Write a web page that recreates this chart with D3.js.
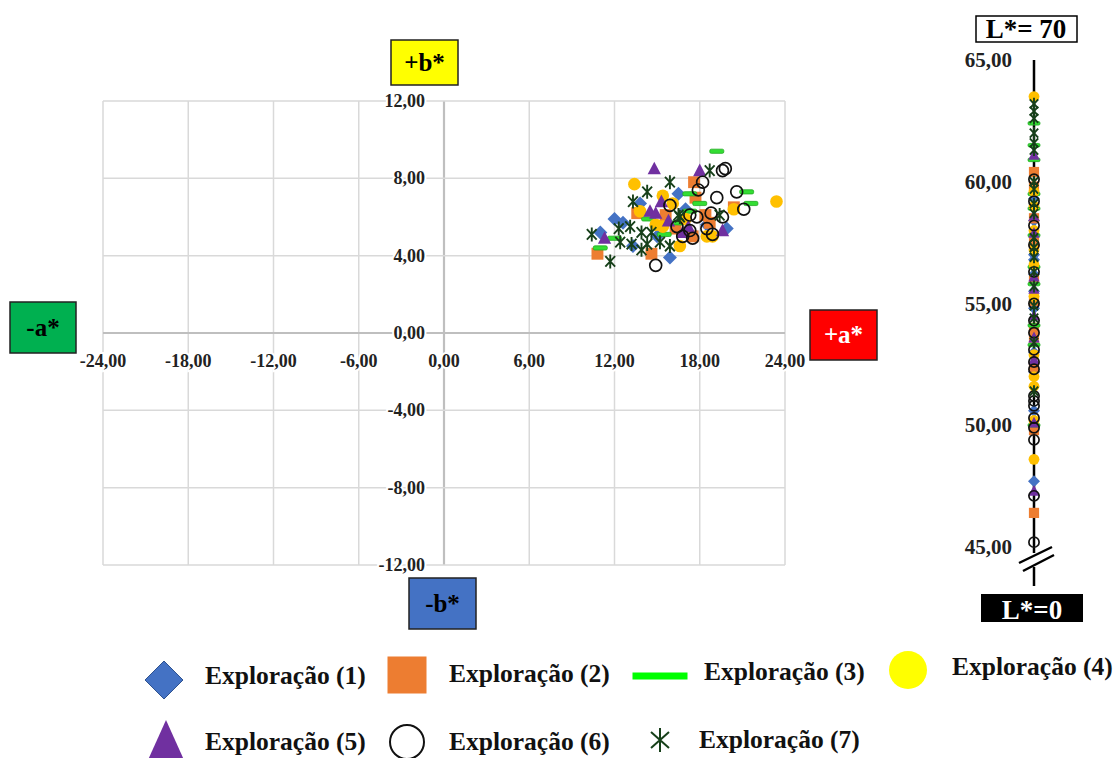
<!DOCTYPE html>
<html>
<head>
<meta charset="utf-8">
<script src="https://cdn.jsdelivr.net/npm/d3@7"></script>
<style>
  body { margin: 0; background: #fff; }
  text { font-family: "Liberation Serif", "Times New Roman", serif; font-weight: bold; }
</style>
</head>
<body>
<div id="chart"></div>
<script>
// a*, b*, L* per sample
const expl1 = [[16.5,7.2,50.6],[12.0,5.9,47.7],[11.0,5.2,56.2],[15.9,3.9,58.4],[13.3,4.5,53.0],[13.8,6.7,57.0],[19.9,5.4,55.5],[17.0,6.4,52.2],[15.0,5.0,54.8],[18.5,5.6,59.3],[12.6,5.7,56.8]];
const expl2 = [[17.6,7.8,60.4],[17.7,7.0,55.1],[13.6,6.2,53.6],[15.6,6.1,46.4],[18.4,6.1,58.5],[20.4,6.5,49.8],[10.8,4.1,57.5],[14.6,4.1,59.8],[16.3,5.4,52.4],[17.5,5.0,54.0],[18.7,5.7,56.0]];
const expl3 = [[19.2,9.4,62.4],[17.3,7.2,60.9],[21.3,7.3,54.1],[18.0,6.7,58.9],[21.6,6.7,57.8],[11.0,4.4,56.5],[14.4,5.9,59.5],[17.3,6.3,55.8],[16.5,5.7,61.5],[15.5,5.1,53.3],[12.0,4.9,50.0]];
const expl4 = [[13.4,7.7,63.5],[15.4,7.1,51.6],[13.8,6.3,59.0],[23.4,6.8,48.6],[20.4,6.4,57.2],[16.1,6.7,52.9],[15.4,5.5,58.0],[18.9,5.0,50.2],[16.6,4.5,55.3],[18.5,5.0,56.6],[14.9,5.6,59.6],[17.0,5.9,52.0]];
const expl5 = [[14.8,8.5,61.1],[18.0,8.4,54.5],[15.3,6.8,53.6],[14.5,6.3,47.3],[14.9,6.2,57.9],[11.3,4.9,50.1],[19.6,5.3,56.1],[16.8,5.2,58.6],[15.8,5.8,55.6],[17.2,5.5,52.7]];
const expl6 = [[19.8,8.5,45.2],[19.6,8.4,52.6],[18.2,7.8,51.2],[17.9,7.4,50.8],[19.2,7.0,53.1],[20.6,7.3,49.4],[21.1,6.4,52.3],[15.9,6.6,50.3],[17.8,6.0,47.1],[19.6,6.0,57.4],[16.4,5.5,59.2],[17.3,5.3,55.0],[18.5,5.4,51.0],[18.9,5.1,53.8],[17.5,4.9,49.9],[14.9,3.5,58.2],[17.3,6.1,56.3],[18.8,6.2,54.3],[16.8,5.0,60.1]];
const expl7 = [[18.7,8.4,63.2],[15.9,7.8,62.9],[14.3,7.3,62.6],[13.3,6.8,62.0],[16.6,6.0,61.6],[10.4,5.1,61.3],[11.7,3.7,60.0],[12.3,5.4,59.7],[13.1,5.5,59.1],[12.4,4.7,58.7],[13.2,4.6,57.7],[13.9,5.2,57.3],[14.3,4.6,56.9],[14.6,5.2,56.3],[15.2,4.7,55.7],[13.9,4.3,54.9],[15.9,4.5,54.4],[16.5,6.1,53.4],[19.4,6.1,51.4]];

const seriesNames = ["Exploração (1)","Exploração (2)","Exploração (3)","Exploração (4)","Exploração (5)","Exploração (6)","Exploração (7)"];
const xTicks = [-24,-18,-12,-6,0,6,12,18,24];
const yTicks = [-12,-8,-4,0,4,8,12];
const lTicks = [45,50,55,60,65];

const W = 1120, H = 758;
const svg = d3.select("#chart").append("svg").attr("width", W).attr("height", H);

const x = d3.scaleLinear().domain([-24, 24]).range([103, 785]);
const y = d3.scaleLinear().domain([-12, 12]).range([565, 101]);
const lY = d3.scaleLinear().domain([45, 65]).range([547, 60]);
const fmt = (v) => d3.format(".2f")(v).replace(".", ",").replace("−", "-");

// marker drawing, one function per series
const markers = [
  (g, s) => g.append("path").attr("d", `M0,${-s}L${s},0L0,${s}L${-s},0Z`).attr("fill", "#4472c4"),
  (g, s) => g.append("rect").attr("x", -s * 0.85).attr("y", -s * 0.85).attr("width", s * 1.7).attr("height", s * 1.7).attr("fill", "#ed7d31"),
  (g, s) => g.append("rect").attr("x", -s).attr("y", -s * 0.3).attr("width", s * 2).attr("height", s * 0.6).attr("rx", 1.5)
    .attr("fill", "#33dd33").attr("stroke", "#22aa22").attr("stroke-width", 0.8),
  (g, s) => g.append("circle").attr("r", s * 0.9).attr("fill", "#ffc000"),
  (g, s) => g.append("path").attr("d", `M0,${-s}L${s * 0.95},${s * 0.8}L${-s * 0.95},${s * 0.8}Z`).attr("fill", "#7030a0"),
  (g, s) => g.append("circle").attr("r", s * 0.85).attr("fill", "none").attr("stroke", "#111").attr("stroke-width", 1.7),
  (g, s) => g.append("path").attr("d", `M0,${-s}L0,${s}M${-s * 0.7},${-s * 0.75}L${s * 0.7},${s * 0.75}M${-s * 0.7},${s * 0.75}L${s * 0.7},${-s * 0.75}`)
    .attr("fill", "none").attr("stroke", "#17401a").attr("stroke-width", 1.9)
];
const allSeries = [expl1, expl2, expl3, expl4, expl5, expl6, expl7];

// grid
const grid = svg.append("g");
grid.selectAll(".vg").data(xTicks).join("line")
  .attr("x1", d => x(d)).attr("x2", d => x(d)).attr("y1", y(12)).attr("y2", y(-12))
  .attr("stroke", d => d === 0 ? "#bfbfbf" : "#d9d9d9").attr("stroke-width", d => d === 0 ? 2.2 : 1.5);
grid.selectAll(".hg").data(yTicks).join("line")
  .attr("y1", d => y(d)).attr("y2", d => y(d)).attr("x1", x(-24)).attr("x2", x(24))
  .attr("stroke", d => d === 0 ? "#bfbfbf" : "#d9d9d9").attr("stroke-width", d => d === 0 ? 2.2 : 1.5);

// tick labels with white halo
const labelStyle = (sel) => sel.attr("font-size", 18).attr("fill", "#222")
  .attr("stroke", "#fff").attr("stroke-width", 4).attr("paint-order", "stroke");
svg.append("g").selectAll("text").data(xTicks).join("text")
  .attr("x", d => x(d)).attr("y", y(0) + 34).attr("text-anchor", "middle")
  .text(fmt).call(labelStyle);
svg.append("g").selectAll("text").data(yTicks).join("text")
  .attr("x", x(0) - 19).attr("y", d => y(d) + 6).attr("text-anchor", "end")
  .text(fmt).call(labelStyle);

// axis name boxes
const boxes = [
  { t: "+b*", x: 391, y: 40, w: 67, h: 45, fill: "#ffff00", c: "#000" },
  { t: "-b*", x: 409, y: 578, w: 67, h: 51, fill: "#4472c4", c: "#000" },
  { t: "-a*", x: 10, y: 302, w: 66, h: 51, fill: "#00b050", c: "#000" },
  { t: "+a*", x: 810, y: 310, w: 67, h: 50, fill: "#ff0000", c: "#fff" }
];
boxes.forEach(b => {
  svg.append("rect").attr("x", b.x).attr("y", b.y).attr("width", b.w).attr("height", b.h)
    .attr("fill", b.fill).attr("stroke", "#222").attr("stroke-width", 1.5);
  svg.append("text").attr("x", b.x + b.w / 2).attr("y", b.y + b.h / 2 + 8)
    .attr("text-anchor", "middle").attr("font-size", 25).attr("fill", b.c).text(b.t);
});

// scatter points
allSeries.forEach((data, i) => {
  svg.append("g").selectAll("g").data(data).join("g")
    .attr("transform", d => `translate(${x(d[0])},${y(d[1])})`)
    .each(function () { markers[i](d3.select(this), 7); });
});

// L* strip
const lx = 1034;
svg.append("line").attr("x1", lx).attr("x2", lx).attr("y1", lY(65)).attr("y2", 553).attr("stroke", "#000").attr("stroke-width", 2.5);
svg.append("line").attr("x1", lx).attr("x2", lx).attr("y1", 567).attr("y2", 586).attr("stroke", "#000").attr("stroke-width", 2.5);
svg.append("path").attr("d", "M1019,563L1052,547M1023,571L1054,555").attr("stroke", "#000").attr("stroke-width", 2.5);
svg.append("g").selectAll("text").data(lTicks).join("text")
  .attr("x", 1012).attr("y", d => lY(d) + 7).attr("text-anchor", "end")
  .attr("font-size", 21).attr("fill", "#222").text(fmt);
allSeries.forEach((data, i) => {
  svg.append("g").selectAll("g").data(data).join("g")
    .attr("transform", d => `translate(${lx},${lY(d[2])})`)
    .each(function () { markers[i](d3.select(this), 6); });
});
svg.append("rect").attr("x", 976).attr("y", 16).attr("width", 101).attr("height", 26)
  .attr("fill", "#fff").attr("stroke", "#000").attr("stroke-width", 1.5);
svg.append("text").attr("x", 1026).attr("y", 38).attr("text-anchor", "middle").attr("font-size", 27).attr("fill", "#000").text("L*= 70");
svg.append("rect").attr("x", 981).attr("y", 594).attr("width", 102).attr("height", 28).attr("fill", "#000");
svg.append("text").attr("x", 1032).attr("y", 619).attr("text-anchor", "middle").attr("font-size", 27).attr("fill", "#fff").text("L*=0");

// legend
const legendPos = [
  { mx: 164, my: 680, tx: 205, ty: 684 },
  { mx: 407, my: 675, tx: 449, ty: 682 },
  { mx: 660, my: 676, tx: 704, ty: 680 },
  { mx: 908, my: 670, tx: 952, ty: 675 },
  { mx: 166, my: 742, tx: 205, ty: 750 },
  { mx: 407, my: 742, tx: 449, ty: 750 },
  { mx: 660, my: 740, tx: 699, ty: 748 }
];
const legendMarkers = [
  (g) => g.append("path").attr("d", "M0,-19L19,0L0,19L-19,0Z").attr("fill", "#4472c4").attr("stroke", "#2f528f").attr("stroke-width", 1),
  (g) => g.append("rect").attr("x", -19.5).attr("y", -18.5).attr("width", 39).attr("height", 37).attr("fill", "#ed7d31"),
  (g) => g.append("rect").attr("x", -27.5).attr("y", -3.5).attr("width", 55).attr("height", 7).attr("fill", "#00ff00"),
  (g) => g.append("circle").attr("r", 19).attr("fill", "#ffff00"),
  (g) => g.append("path").attr("d", "M0,-22L18,18L-18,18Z").attr("fill", "#7030a0"),
  (g) => g.append("circle").attr("r", 17).attr("fill", "none").attr("stroke", "#111").attr("stroke-width", 2),
  (g) => g.append("path").attr("d", "M0,-12L0,12M-9,-8L9,8M-9,8L9,-8").attr("fill", "none").attr("stroke", "#17401a").attr("stroke-width", 2)
];
seriesNames.forEach((name, i) => {
  const p = legendPos[i];
  legendMarkers[i](svg.append("g").attr("transform", `translate(${p.mx},${p.my})`));
  svg.append("text").attr("x", p.tx).attr("y", p.ty).attr("font-size", 25.5).attr("fill", "#111").text(name);
});
</script>
</body>
</html>
